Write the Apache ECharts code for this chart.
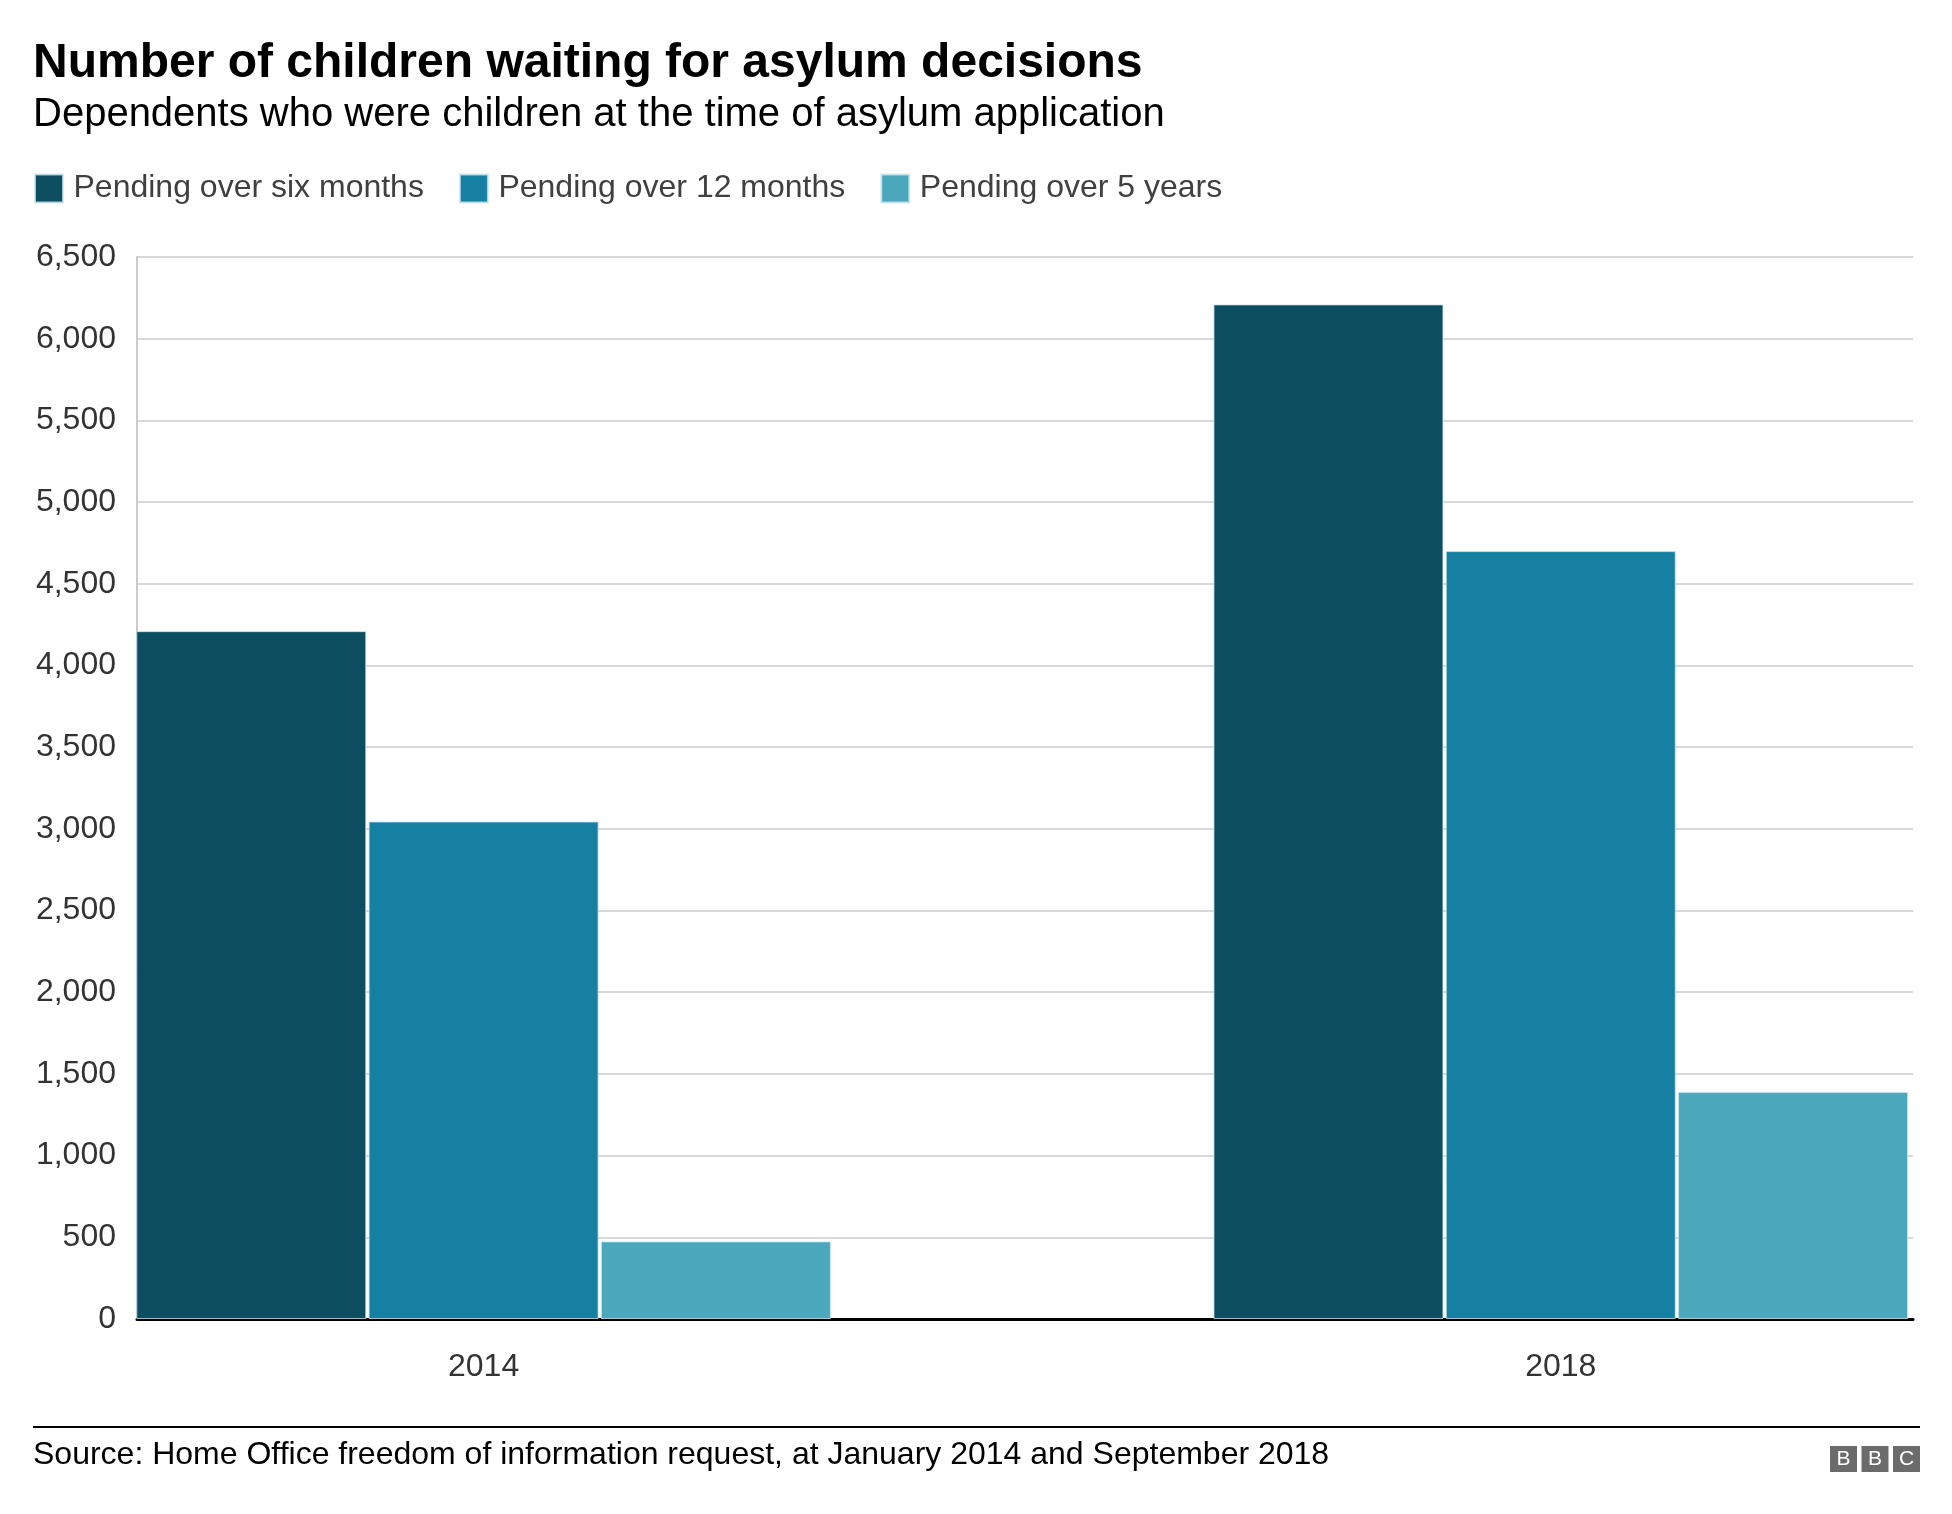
<!DOCTYPE html>
<html>
<head>
<meta charset="utf-8">
<script src="https://cdn.jsdelivr.net/npm/echarts@6/dist/echarts.min.js"></script>
<style>
  html, body { margin: 0; padding: 0; background: #ffffff; }
  #chart { width: 1952px; height: 1514px; }
</style>
</head>
<body>
<div id="chart"></div>
<script>
// ---- Data ----
const years = [2014, 2018];
const seriesNames = ['Pending over six months', 'Pending over 12 months', 'Pending over 5 years'];
const pendingSixMonths = [4210, 6210];
const pending12Months = [3045, 4700];
const pending5Years = [475, 1390];
const seriesColors = ['#0c4e5f', '#1580a1', '#4ba7bc'];
const yMin = 0, yMax = 6500, yStep = 500;

const titleText = 'Number of children waiting for asylum decisions';
const subtitleText = 'Dependents who were children at the time of asylum application';
const sourceText = 'Source: Home Office freedom of information request, at January 2014 and September 2018';

const FONT = '"Liberation Sans", Arial, Helvetica, sans-serif';

const allValues = [pendingSixMonths, pending12Months, pending5Years];

const chart = echarts.init(document.getElementById('chart'), null, { renderer: 'canvas' });

const series = seriesNames.map((name, si) => ({
  name: name,
  type: 'bar',
  barWidth: 230,
  barGap: '1%',
  data: years.map((yr, i) => [yr, allValues[si][i]]),
  itemStyle: {
    color: seriesColors[si],
    borderColor: 'rgba(200,230,240,0.8)',
    borderWidth: 1
  },
  emphasis: { disabled: true },
  silent: true
}));

const option = {
  backgroundColor: '#ffffff',
  animation: false,
  textStyle: { fontFamily: FONT },
  title: [
    {
      text: titleText,
      left: 33, top: 40,
      padding: 0,
      textStyle: { fontFamily: FONT, fontSize: 48, fontWeight: 'bold', color: '#000000' }
    },
    {
      text: subtitleText,
      left: 33, top: 95,
      padding: 0,
      textStyle: { fontFamily: FONT, fontSize: 40, fontWeight: 'normal', color: '#000000' }
    },
    {
      text: sourceText,
      left: 33, top: 1439,
      padding: 0,
      textStyle: { fontFamily: FONT, fontSize: 32, fontWeight: 'normal', color: '#000000' }
    }
  ],
  legend: {
    left: 34, top: 172.5,
    padding: 0,
    icon: 'rect',
    itemWidth: 28, itemHeight: 28,
    itemGap: 35,
    selectedMode: false,
    data: seriesNames,
    textStyle: { fontFamily: FONT, fontSize: 32, color: '#404040', padding: [0, 0, 0, 5.5] }
  },
  grid: { left: 137, right: 39, top: 257, bottom: 195, containLabel: false },
  xAxis: {
    type: 'value',
    min: 2012.713,
    max: 2019.308,
    splitLine: { show: false },
    axisTick: { show: false },
    axisLine: { show: true, onZero: false, lineStyle: { color: '#000000', width: 3 } },
    axisLabel: {
      customValues: years,
      formatter: v => String(v),
      fontFamily: FONT, fontSize: 32, color: '#333333', margin: 32
    }
  },
  yAxis: {
    type: 'value',
    min: yMin, max: yMax, interval: yStep,
    axisLine: { show: true, lineStyle: { color: '#cccccc', width: 2 } },
    axisTick: { show: false },
    splitLine: { show: true, lineStyle: { color: '#d9d9d9', width: 2 } },
    axisLabel: {
      formatter: v => v.toLocaleString('en-US'),
      fontFamily: FONT, fontSize: 32, color: '#333333', margin: 21,
      padding: [9, 0, 0, 0]
    }
  },
  series: series,
  graphic: [
    { type: 'rect', shape: { x: 33, y: 1426, width: 1887, height: 2 }, style: { fill: '#000000' }, silent: true },
    { type: 'rect', shape: { x: 1830, y: 1446, width: 27, height: 26 }, style: { fill: '#6b6b6b' }, silent: true },
    { type: 'rect', shape: { x: 1861.5, y: 1446, width: 27, height: 26 }, style: { fill: '#6b6b6b' }, silent: true },
    { type: 'rect', shape: { x: 1893, y: 1446, width: 27, height: 26 }, style: { fill: '#6b6b6b' }, silent: true },
    { type: 'text', x: 1843.5, y: 1459, style: { text: 'B', fill: '#ffffff', font: '21px ' + FONT, align: 'center', verticalAlign: 'middle' }, silent: true },
    { type: 'text', x: 1875, y: 1459, style: { text: 'B', fill: '#ffffff', font: '21px ' + FONT, align: 'center', verticalAlign: 'middle' }, silent: true },
    { type: 'text', x: 1906.5, y: 1459, style: { text: 'C', fill: '#ffffff', font: '21px ' + FONT, align: 'center', verticalAlign: 'middle' }, silent: true }
  ]
};

chart.setOption(option);
</script>
</body>
</html>
